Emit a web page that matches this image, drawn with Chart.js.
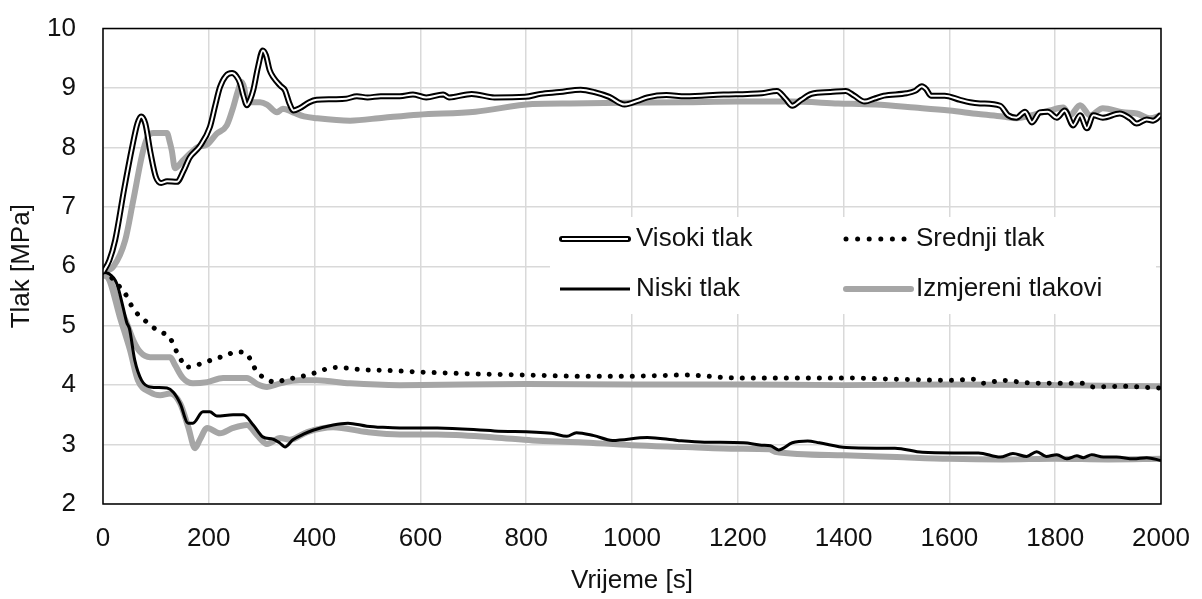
<!DOCTYPE html>
<html><head><meta charset="utf-8">
<script src="https://cdn.jsdelivr.net/npm/chart.js@4/dist/chart.umd.min.js"></script>
<style>html,body{margin:0;padding:0;background:#fff}#wrap{width:1202px;height:599px}</style>
</head><body><div id="wrap"><canvas id="c" width="1202" height="599"></canvas></div>
<script>
// ---- Data (time [s], pressure [MPa]) ----
const visokiT = [0,12,23,40,55,65,72,80,90,100,110,121,140,152,164,183,202,212,221,232,244,252,259,266,272,278,284,293,302,308,315,322,335,344,352,360,372,390,404,435,460,480,500,525,561,586,611,643,654,697,740,798,827,863,903,929,957,986,1010,1029,1065,1101,1173,1218,1245,1274,1290,1303,1320,1339,1375,1404,1420,1440,1458,1476,1519,1535,1548,1556,1565,1591,1620,1639,1658,1696,1711,1727,1743,1756,1771,1786,1803,1818,1834,1847,1860,1872,1890,1922,1941,1954,1973,1985,2000];
const visokiP = [5.9,6.1,6.44,7.3,8.0,8.4,8.52,8.4,7.9,7.5,7.4,7.43,7.42,7.6,7.83,8.02,8.34,8.7,9.01,9.2,9.25,9.2,9.08,8.85,8.71,8.8,8.96,9.35,9.63,9.55,9.3,9.18,9.04,8.96,8.75,8.62,8.66,8.76,8.8,8.81,8.82,8.86,8.84,8.86,8.86,8.89,8.84,8.89,8.84,8.9,8.84,8.85,8.9,8.93,8.97,8.93,8.85,8.72,8.78,8.84,8.88,8.86,8.89,8.9,8.91,8.95,8.82,8.7,8.8,8.9,8.93,8.95,8.87,8.77,8.82,8.87,8.91,8.95,9.03,8.98,8.87,8.87,8.8,8.76,8.74,8.7,8.54,8.5,8.6,8.42,8.59,8.6,8.5,8.62,8.37,8.54,8.32,8.54,8.5,8.57,8.49,8.4,8.47,8.45,8.55];

const srednjiT = [0,7,29,42,51,64,79,95,111,127,136,146,157,178,195,214,233,251,270,282,291,306,325,348,367,386,406,425,446,467,488,529,600,700,800,900,1000,1100,1200,1300,1400,1500,1600,1645,1664,1701,1746,1815,1851,1872,1935,1975,2000];
const srednjiP = [5.9,5.88,5.68,5.54,5.38,5.21,5.09,4.97,4.89,4.79,4.62,4.45,4.3,4.34,4.39,4.45,4.5,4.56,4.54,4.37,4.22,4.12,4.05,4.1,4.13,4.17,4.22,4.28,4.3,4.28,4.26,4.25,4.22,4.19,4.17,4.15,4.15,4.17,4.12,4.12,4.12,4.1,4.08,4.1,4.03,4.08,4.04,4.03,4.03,3.97,3.98,3.96,3.95];

const niskiT = [0,10,26,38,45,50,60,73,89,121,133,146,161,170,189,202,215,246,265,284,302,322,335,344,359,380,397,435,463,499,529,561,632,740,848,877,895,928,963,1029,1086,1137,1211,1245,1262,1277,1303,1332,1354,1405,1462,1497,1549,1607,1655,1696,1720,1746,1765,1783,1803,1822,1841,1853,1869,1891,1916,1948,1973,2000];
const niskiP = [5.9,5.88,5.71,5.31,5.05,4.95,4.42,4.08,3.97,3.95,3.88,3.69,3.36,3.36,3.55,3.55,3.48,3.5,3.5,3.33,3.13,3.09,3.02,2.96,3.08,3.18,3.24,3.33,3.36,3.31,3.29,3.28,3.28,3.23,3.19,3.14,3.2,3.15,3.07,3.12,3.07,3.04,3.03,2.99,2.98,2.91,3.03,3.06,3.03,2.95,2.94,2.94,2.87,2.86,2.86,2.79,2.85,2.8,2.88,2.8,2.83,2.76,2.81,2.78,2.83,2.79,2.79,2.76,2.78,2.73];

const mjerVisT = [0,20,42,57,76,86,95,121,126,130,136,151,165,178,197,215,234,246,255,262,267,272,297,310,329,340,359,380,404,467,530,596,704,812,884,986,1100,1200,1300,1390,1460,1534,1600,1655,1700,1727,1760,1790,1815,1828,1847,1866,1890,1928,1954,1979,2000];
const mjerVisP = [5.9,6.0,6.44,7.1,7.95,8.2,8.24,8.24,8.1,7.95,7.65,7.78,7.9,8.0,8.05,8.23,8.37,8.67,8.95,9.1,9.0,8.76,8.76,8.72,8.59,8.65,8.59,8.52,8.49,8.45,8.5,8.55,8.6,8.73,8.74,8.75,8.76,8.77,8.77,8.74,8.72,8.67,8.62,8.56,8.52,8.49,8.55,8.62,8.67,8.54,8.71,8.54,8.66,8.59,8.57,8.49,8.54];

const mjerSrT = [0,10,32,45,57,70,89,127,136,151,170,197,227,272,291,310,335,372,404,467,561,800,1000,1200,1400,1600,1800,2000];
const mjerSrP = [5.85,5.82,5.31,5.04,4.76,4.56,4.47,4.47,4.34,4.12,4.03,4.05,4.12,4.12,4.02,3.97,4.03,4.08,4.08,4.03,4.0,4.02,4.01,4.01,4.0,4.01,4.0,3.98];

const mjerNiT = [0,10,32,51,66,89,108,127,146,161,174,183,197,221,246,272,291,310,335,353,386,435,499,561,632,740,812,900,1000,1100,1200,1260,1270,1400,1500,1600,1700,1800,1900,2000];
const mjerNiP = [5.85,5.8,5.14,4.59,4.08,3.88,3.83,3.86,3.69,3.3,2.94,3.08,3.28,3.19,3.28,3.33,3.16,3.01,3.11,3.08,3.21,3.29,3.21,3.17,3.17,3.12,3.07,3.04,2.99,2.96,2.93,2.92,2.88,2.82,2.79,2.76,2.75,2.76,2.75,2.76];

const seriesNames = ['Visoki tlak','Srednji tlak','Niski tlak','Izmjereni tlakovi'];
const xTitle = 'Vrijeme [s]';
const yTitle = 'Tlak [MPa]';

function pts(t, p){ return t.map((x,i)=>({x:x, y:p[i]})); }

const GRAY = '#a6a6a6';
const FONT = 'Liberation Sans';
Chart.defaults.font.family = FONT;
Chart.defaults.font.size = 26;
Chart.defaults.color = '#111';

const base = {pointRadius:0, fill:false, cubicInterpolationMode:'monotone', borderJoinStyle:'round'};

const datasets = [
  Object.assign({label:seriesNames[0]+' inner', data:pts(visokiT,visokiP), borderColor:'#fff', borderWidth:2, order:0}, base),
  Object.assign({label:seriesNames[0], data:pts(visokiT,visokiP), borderColor:'#000', borderWidth:6, order:1}, base),
  Object.assign({label:seriesNames[2], data:pts(niskiT,niskiP), borderColor:'#000', borderWidth:3, order:2}, base),
  Object.assign({label:seriesNames[1], data:pts(srednjiT,srednjiP), borderColor:'#000', borderWidth:5, borderDash:[0.01,11], borderCapStyle:'round', order:3}, base),
  Object.assign({label:seriesNames[3], data:pts(mjerVisT,mjerVisP), borderColor:GRAY, borderWidth:6, order:10}, base),
  Object.assign({label:seriesNames[3]+' 2', data:pts(mjerSrT,mjerSrP), borderColor:GRAY, borderWidth:6, order:11}, base),
  Object.assign({label:seriesNames[3]+' 3', data:pts(mjerNiT,mjerNiP), borderColor:GRAY, borderWidth:6, order:12}, base)
];

const frame = {
  id:'frame',
  afterDatasetsDraw(chart){
    const a = chart.chartArea, ctx = chart.ctx;
    ctx.save();
    ctx.strokeStyle = '#000';
    ctx.lineWidth = 1.5;
    ctx.strokeRect(a.left, a.top, a.right - a.left, a.bottom - a.top);
    ctx.restore();
  }
};

const legendBox = {
  id:'legendBox',
  afterDraw(chart){
    const ctx = chart.ctx;
    ctx.save();
    ctx.fillStyle = '#fff';
    ctx.fillRect(550, 217, 606, 97);
    const r1 = 239, r2 = 289, c1 = 560, c2 = 844;
    ctx.lineCap = 'round';
    ctx.strokeStyle = '#000'; ctx.lineWidth = 6;
    ctx.beginPath(); ctx.moveTo(c1+2, r1); ctx.lineTo(c1+68, r1); ctx.stroke();
    ctx.strokeStyle = '#fff'; ctx.lineWidth = 2; ctx.lineCap = 'butt';
    ctx.beginPath(); ctx.moveTo(c1+2, r1); ctx.lineTo(c1+68, r1); ctx.stroke();
    ctx.strokeStyle = '#000'; ctx.lineWidth = 3;
    ctx.beginPath(); ctx.moveTo(c1, r2); ctx.lineTo(c1+70, r2); ctx.stroke();
    ctx.fillStyle = '#000';
    for (let i = 0; i < 6; i++){ ctx.beginPath(); ctx.arc(c2+2+i*11.6, r1, 2.5, 0, Math.PI*2); ctx.fill(); }
    ctx.strokeStyle = GRAY; ctx.lineWidth = 6; ctx.lineCap = 'round';
    ctx.beginPath(); ctx.moveTo(c2+2, r2); ctx.lineTo(c2+67, r2); ctx.stroke();
    ctx.fillStyle = '#111';
    ctx.font = '26px "' + FONT + '"';
    ctx.textBaseline = 'middle'; ctx.textAlign = 'left';
    ctx.fillText(seriesNames[0], 636, r1);
    ctx.fillText(seriesNames[2], 636, r2);
    ctx.fillText(seriesNames[1], 916, r1);
    ctx.fillText(seriesNames[3], 916, r2);
    ctx.restore();
  }
};

new Chart(document.getElementById('c'), {
  type:'line',
  data:{datasets:datasets},
  options:{
    responsive:false,
    animation:false,
    devicePixelRatio:1,
    layout:{padding:{top:28.5, right:41, left:0, bottom:0}},
    plugins:{legend:{display:false}, tooltip:{enabled:false}},
    scales:{
      x:{type:'linear', min:0, max:2000,
         ticks:{stepSize:200, padding:19, maxRotation:0, autoSkip:false, callback:(v)=>String(v)},
         grid:{color:'#d9d9d9', lineWidth:1.5, drawTicks:false},
         border:{display:false},
         title:{display:true, text:xTitle, padding:{top:0,bottom:3}},
         afterFit(s){ s.height = 95; s.paddingLeft = 0; s.paddingRight = 0; }
      },
      y:{type:'linear', min:2, max:10,
         ticks:{stepSize:1, padding:27, callback:(v)=>String(v)},
         grid:{color:'#d9d9d9', lineWidth:1.5, drawTicks:false},
         border:{display:false},
         title:{display:true, text:yTitle, padding:{top:6,bottom:0}},
         afterFit(s){ s.width = 103; s.paddingTop = 0; s.paddingBottom = 0; }
      }
    }
  },
  plugins:[frame, legendBox]
});
</script>
</body></html>
